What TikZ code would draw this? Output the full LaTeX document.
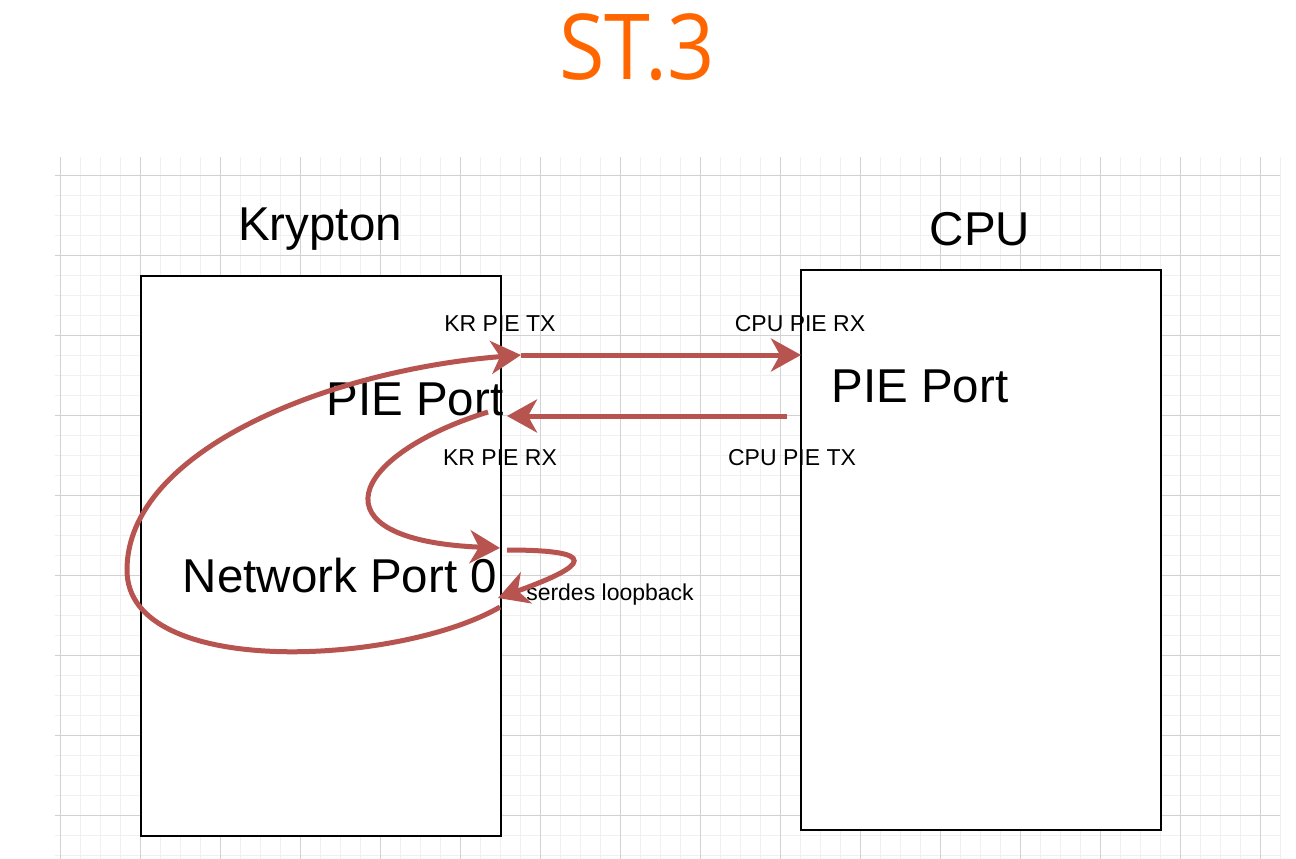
\documentclass[tikz,border=0pt]{standalone}
\usepackage{fontspec}
\setmainfont{Liberation Sans}
\newfontfamily\titlefont[FakeStretch=0.91]{Open Sans}
\usepackage{tikz}
\usetikzlibrary{arrows.meta}
\definecolor{linkred}{HTML}{B85450}
\definecolor{titleorange}{HTML}{FF6600}
\definecolor{gridminor}{HTML}{F0F0F0}
\definecolor{gridmajor}{HTML}{D2D2D2}

\begin{document}
\begin{tikzpicture}[
    x=1pt, y=-1pt,
    chip/.style={draw=black, fill=white, line width=2pt, minimum width=360pt, minimum height=560pt, inner sep=0pt},
    big/.style={font=\fontsize{47.5}{56}\selectfont, anchor=base, inner sep=0pt},
    small/.style={font=\fontsize{23}{28}\selectfont, anchor=base, inner sep=0pt},
    minorline/.style={draw=gridminor, line width=1pt},
    majorline/.style={draw=gridmajor, line width=1pt},
    link/.style={->, draw=linkred, line width=5pt},
    >={Stealth[length=30pt, width=33pt, inset=9pt]},
]
\fill[white] (0,0) rectangle (1296,859);
\useasboundingbox (0,0) rectangle (1296,859);

\foreach \gx in {60,80,...,1280} \draw[minorline] (\gx,157) -- (\gx,859);
\foreach \gy in {175,195,...,855} \draw[minorline] (55,\gy) -- (1280,\gy);
\foreach \gx in {60,140,...,1260} \draw[majorline] (\gx,157) -- (\gx,859);
\foreach \gy in {175,255,...,815} \draw[majorline] (55,\gy) -- (1280,\gy);

\node[anchor=base, inner sep=0pt, text=titleorange, font=\titlefont\fontsize{91}{100}\selectfont] (title) at (637,80) {ST.3};

\node[chip] (kr) at (321,556) {};
\node[chip] (cpu) at (981,550) {};

\node[big] (kr-name) at (320,240) {Krypton};
\node[big] (cpu-name) at (980,245) {CPU};
\node[big] (kr-pie) at (415,415) {PIE Port};
\node[big] (cpu-pie) at (920,402) {PIE Port};
\node[big] (kr-net) at (340,592) {Network Port 0};

\node[small] (kr-tx-lbl) at (500,331) {KR PIE TX};
\node[small] (cpu-rx-lbl) at (800,331) {CPU PIE RX};
\node[small] (kr-rx-lbl) at (500,465) {KR PIE RX};
\node[small] (cpu-tx-lbl) at (792,465) {CPU PIE TX};
\node[small] (loop-lbl) at (610,600) {serdes loopback};

\coordinate (krtx) at (521,355);
\coordinate (cpurx) at (801,355);
\coordinate (cputx) at (787,416);
\coordinate (krrx) at (507,416);
\coordinate (rxout) at (488,412);
\coordinate (netin) at (500,548);
\coordinate (netout) at (507,550);
\coordinate (netback) at (498,598);
\coordinate (nettx) at (500,607);

\draw[link] (krtx) -- (cpurx);
\draw[link] (cputx) -- (krrx);
\draw[link] (rxout) .. controls (350,455) and (310,540) .. (netin);
\draw[link] (netout) .. controls (600,550) and (590,565) .. (netback);
\draw[link] (nettx) .. controls (400,665) and (127,680) .. (127,570)
    .. controls (127,450) and (330,370) .. (krtx);
\end{tikzpicture}
\end{document}
